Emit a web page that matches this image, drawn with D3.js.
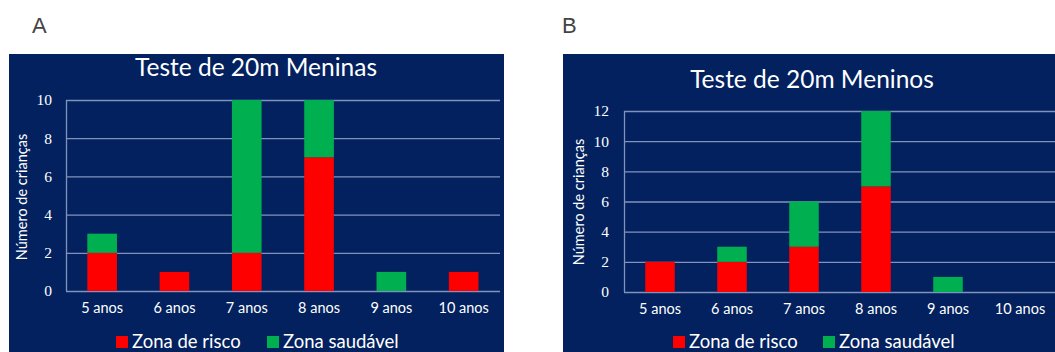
<!DOCTYPE html>
<html>
<head>
<meta charset="utf-8">
<script src="https://cdn.jsdelivr.net/npm/d3@7"></script>
<style>
  html, body { margin: 0; padding: 0; background: #fff; }
  svg { display: block; }
</style>
</head>
<body>
<svg id="chart" width="1055" height="352"></svg>
<script>
// Age groups shared by both panels
const categories = ["5 anos", "6 anos", "7 anos", "8 anos", "9 anos", "10 anos"];
const seriesNames = ["Zona de risco", "Zona saudável"];

// Girls: children counts per zone
const meninasRisco = [2, 1, 2, 7, 0, 1];
const meninasSaudavel = [1, 0, 8, 3, 1, 0];
const meninasTicks = [0, 2, 4, 6, 8, 10];

// Boys: children counts per zone
const meninosRisco = [2, 2, 3, 7, 0, 0];
const meninosSaudavel = [0, 1, 3, 5, 1, 0];
const meninosTicks = [0, 2, 4, 6, 8, 10, 12];

const colors = ["#ff0000", "#00b050"];
const navy = "#02215e";
const gridColor = "#8193bd";
const labelFont = "Lato, 'Open Sans', sans-serif";

const svg = d3.select("#chart");

function drawPanel(opt) {
  const g = svg.append("g");

  // panel background
  g.append("rect")
    .attr("x", opt.bg[0]).attr("y", opt.bg[1])
    .attr("width", opt.bg[2]).attr("height", opt.bg[3])
    .attr("fill", navy);

  // panel letter
  g.append("text")
    .attr("x", opt.letter[0]).attr("y", opt.letter[1])
    .attr("font-family", "'Liberation Sans', Arial, sans-serif")
    .attr("font-size", 22)
    .attr("fill", "#444")
    .text(opt.letterText);

  // title
  g.append("text")
    .attr("x", opt.titlePos[0]).attr("y", opt.titlePos[1])
    .attr("text-anchor", "middle")
    .attr("font-family", labelFont)
    .attr("font-size", 24.5)
    .attr("fill", "#fff")
    .text(opt.title);

  const rows = categories.map((c, i) => ({
    cat: c,
    [seriesNames[0]]: opt.risco[i],
    [seriesNames[1]]: opt.saudavel[i]
  }));
  const stacked = d3.stack().keys(seriesNames)(rows);

  const x = d3.scaleBand()
    .domain(categories)
    .range([opt.plot.left, opt.plot.left + opt.plot.band * categories.length])
    .paddingInner(0.59).paddingOuter(0.295);
  const y = d3.scaleLinear()
    .domain([0, d3.max(opt.ticks)])
    .range([opt.plot.bottom, opt.plot.top]);

  // gridlines
  g.append("g")
    .selectAll("line")
    .data(opt.ticks)
    .join("line")
    .attr("x1", opt.plot.left).attr("x2", opt.plot.right)
    .attr("y1", d => y(d) + 0.5).attr("y2", d => y(d) + 0.5)
    .attr("stroke", gridColor)
    .attr("stroke-width", 1.3);
  g.append("line")
    .attr("x1", opt.plot.left + 0.5).attr("x2", opt.plot.left + 0.5)
    .attr("y1", y(d3.max(opt.ticks))).attr("y2", y(0))
    .attr("stroke", gridColor).attr("stroke-width", 1.3);

  // stacked bars
  g.append("g")
    .selectAll("g")
    .data(stacked)
    .join("g")
    .attr("fill", (d, i) => colors[i])
    .selectAll("rect")
    .data(d => d)
    .join("rect")
    .attr("x", d => x(d.data.cat))
    .attr("width", x.bandwidth())
    .attr("y", d => y(d[1]))
    .attr("height", d => y(d[0]) - y(d[1]));

  // y axis labels
  const yAxis = d3.axisLeft(y).tickValues(opt.ticks).tickSize(0).tickPadding(0);
  const ya = g.append("g")
    .attr("transform", `translate(${opt.tickRight},0)`)
    .call(yAxis);
  ya.select(".domain").remove();
  ya.selectAll("text")
    .attr("fill", "#fff")
    .attr("font-family", "'Liberation Serif', 'DejaVu Serif', serif")
    .attr("font-size", 15.5);

  // x axis labels
  const xAxis = d3.axisBottom(x).tickSize(0).tickPadding(0);
  const xa = g.append("g")
    .attr("transform", `translate(0,${opt.xLabelY})`)
    .call(xAxis);
  xa.select(".domain").remove();
  xa.selectAll("text")
    .attr("fill", "#fff")
    .attr("font-family", labelFont)
    .attr("font-size", 14.5);

  // y axis title
  g.append("text")
    .attr("transform", `translate(${opt.yTitle[0]},${opt.yTitle[1]}) rotate(-90)`)
    .attr("text-anchor", "middle")
    .attr("font-family", labelFont)
    .attr("font-size", 14.5)
    .attr("fill", "#fff")
    .text("Número de crianças");

  // legend
  const lg = g.append("g");
  seriesNames.forEach((name, i) => {
    const lx = opt.legend[i];
    lg.append("rect")
      .attr("x", lx).attr("y", opt.legendY - 7)
      .attr("width", 12).attr("height", 12)
      .attr("fill", colors[i]);
    lg.append("text")
      .attr("x", lx + 16).attr("y", opt.legendY + 5)
      .attr("font-family", labelFont)
      .attr("font-size", 18.5)
      .attr("fill", "#fff")
      .text(name);
  });
}

drawPanel({
  letterText: "A",
  letter: [32, 33],
  bg: [9, 54, 495, 298],
  title: "Teste de 20m Meninas",
  titlePos: [256, 75.5],
  risco: meninasRisco,
  saudavel: meninasSaudavel,
  ticks: meninasTicks,
  plot: { left: 66, right: 500, band: 72.3, top: 100, bottom: 291 },
  tickRight: 52,
  xLabelY: 303,
  yTitle: [27, 197],
  legend: [116, 267],
  legendY: 343
});

drawPanel({
  letterText: "B",
  letter: [562, 33],
  bg: [563, 54, 492, 298],
  title: "Teste de 20m Meninos",
  titlePos: [812, 87.5],
  risco: meninosRisco,
  saudavel: meninosSaudavel,
  ticks: meninosTicks,
  plot: { left: 624, right: 1055, band: 72, top: 111, bottom: 292 },
  tickRight: 609,
  xLabelY: 304,
  yTitle: [584, 202],
  legend: [673, 823],
  legendY: 343
});
</script>
</body>
</html>
